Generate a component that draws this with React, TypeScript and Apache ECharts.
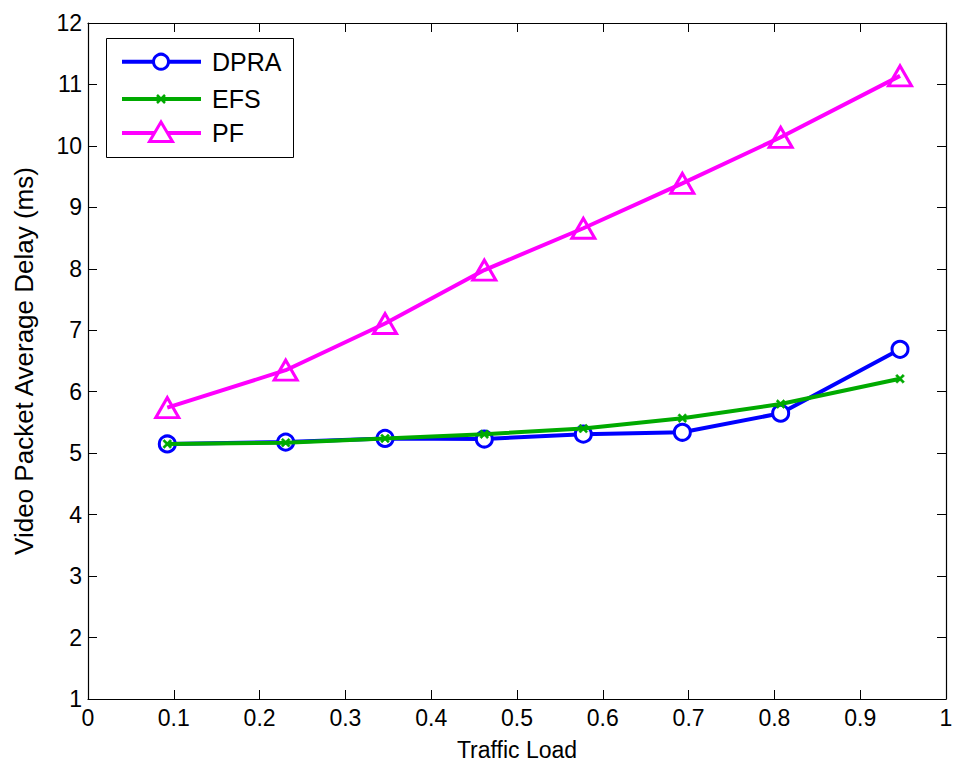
import React, { useEffect, useRef } from "react";
import * as echarts from "echarts";

const trafficLoad = [0.0924, 0.2304, 0.3462, 0.4619, 0.5773, 0.6927, 0.8073, 0.9464];
const dpraDelay = [5.15, 5.18, 5.24, 5.23, 5.31, 5.34, 5.65, 6.69];
const efsDelay = [5.15, 5.17, 5.24, 5.31, 5.40, 5.57, 5.80, 6.21];
const pfDelay = [5.74, 6.35, 7.11, 7.98, 8.66, 9.39, 10.14, 11.14];
const seriesNames = ["DPRA", "EFS", "PF"];
const seriesColors = ["#0000ff", "#00aa00", "#ff00ff"];
const xTitle = "Traffic Load";
const yTitle = "Video Packet Average Delay (ms)";

const FONT = "'Liberation Sans', Arial, Helvetica, sans-serif";
const X_MARK = "path://M0,1.8L1.8,0L5,3.2L8.2,0L10,1.8L6.8,5L10,8.2L8.2,10L5,6.8L1.8,10L0,8.2L3.2,5Z";

function legendGraphic() {
  const box = { x: 106, y: 38, w: 187, h: 119 };
  const rows = [61.7, 99, 133];
  const lx1 = 122, lx2 = 201, mx = 161, tx = 212;
  const els: any[] = [
    {
      type: "rect",
      shape: { x: box.x + 0.5, y: box.y + 0.5, width: box.w, height: box.h },
      style: { fill: "#fff", stroke: "#000", lineWidth: 1 },
    },
  ];
  rows.forEach((y, i) => {
    const c = seriesColors[i];
    els.push({ type: "line", shape: { x1: lx1, y1: y, x2: lx2, y2: y }, style: { stroke: c, lineWidth: 4 } });
    if (i === 0) {
      els.push({ type: "circle", shape: { cx: mx, cy: y, r: 7.5 }, style: { fill: "#fff", stroke: c, lineWidth: 3 } });
    } else if (i === 1) {
      els.push({ type: "line", shape: { x1: mx - 4, y1: y - 4, x2: mx + 4, y2: y + 4 }, style: { stroke: c, lineWidth: 2.5 } });
      els.push({ type: "line", shape: { x1: mx - 4, y1: y + 4, x2: mx + 4, y2: y - 4 }, style: { stroke: c, lineWidth: 2.5 } });
    } else {
      els.push({
        type: "polygon",
        shape: { points: [[mx - 11.5, y + 8.5], [mx + 11.5, y + 8.5], [mx, y - 11]] },
        style: { fill: "#fff", stroke: c, lineWidth: 3 },
      });
    }
    els.push({
      type: "text",
      x: tx,
      y: y,
      style: { text: seriesNames[i], fontFamily: FONT, fontSize: 25, fill: "#000", verticalAlign: "middle", align: "left" },
    });
  });
  return [{ type: "group", z: 100, children: els }];
}

export default function App() {
  const ref = useRef<HTMLDivElement>(null);
  useEffect(() => {
    if (!ref.current) return;
    const chart = echarts.init(ref.current, undefined, { renderer: "svg" });
    const pair = (ys: number[]) => trafficLoad.map((x, i) => [x, ys[i]]);
    const tickStyle = { inside: true, length: 9, lineStyle: { color: "#000", width: 1 } };
    const lineAx = { show: true, onZero: false, lineStyle: { color: "#000", width: 1.2 } };
    chart.setOption({
      animation: false,
      backgroundColor: "#fff",
      textStyle: { fontFamily: FONT },
      grid: { left: 88, right: 8, top: 23, bottom: 65, containLabel: false, outerBoundsMode: "none" },
      graphic: legendGraphic(),
      xAxis: [
        {
          type: "value",
          min: 0,
          max: 1,
          interval: 0.1,
          name: xTitle,
          nameLocation: "middle",
          nameGap: 39,
          nameTextStyle: { fontSize: 23, color: "#000", fontFamily: FONT },
          axisLine: lineAx,
          axisTick: tickStyle,
          axisLabel: { fontSize: 23, color: "#000", margin: 7, fontFamily: FONT },
          splitLine: { show: false },
        },
        {
          type: "value",
          position: "top",
          min: 0,
          max: 1,
          interval: 0.1,
          axisLine: lineAx,
          axisTick: tickStyle,
          axisLabel: { show: false },
          splitLine: { show: false },
        },
      ],
      yAxis: [
        {
          type: "value",
          min: 1,
          max: 12,
          interval: 1,
          name: yTitle,
          nameLocation: "middle",
          nameGap: 51,
          nameTextStyle: { fontSize: 26, color: "#000", fontFamily: FONT },
          axisLine: lineAx,
          axisTick: tickStyle,
          axisLabel: { fontSize: 23, color: "#000", margin: 6, fontFamily: FONT },
          splitLine: { show: false },
        },
        {
          type: "value",
          position: "right",
          min: 1,
          max: 12,
          interval: 1,
          axisLine: lineAx,
          axisTick: tickStyle,
          axisLabel: { show: false },
          splitLine: { show: false },
        },
      ],
      series: [
        {
          name: seriesNames[0],
          type: "line",
          data: pair(dpraDelay),
          symbol: "circle",
          symbolSize: 16,
          lineStyle: { color: seriesColors[0], width: 4 },
          itemStyle: { color: "#ffffff", borderColor: seriesColors[0], borderWidth: 3 },
          z: 2,
        },
        {
          name: seriesNames[1],
          type: "line",
          data: pair(efsDelay),
          symbol: X_MARK,
          symbolSize: 9,
          lineStyle: { color: seriesColors[1], width: 4 },
          itemStyle: { color: seriesColors[1], borderColor: seriesColors[1], borderWidth: 0.5 },
          z: 3,
        },
        {
          name: seriesNames[2],
          type: "line",
          data: pair(pfDelay),
          symbol: "triangle",
          symbolSize: [23, 20],
          lineStyle: { color: seriesColors[2], width: 4 },
          itemStyle: { color: "rgba(255,255,255,0)", borderColor: seriesColors[2], borderWidth: 3 },
          z: 2,
        },
      ],
    });
    return () => chart.dispose();
  }, []);
  return (
    <div
      ref={ref}
      style={{ position: "fixed", left: 0, top: 0, width: 954, height: 764, background: "#fff" }}
    />
  );
}
